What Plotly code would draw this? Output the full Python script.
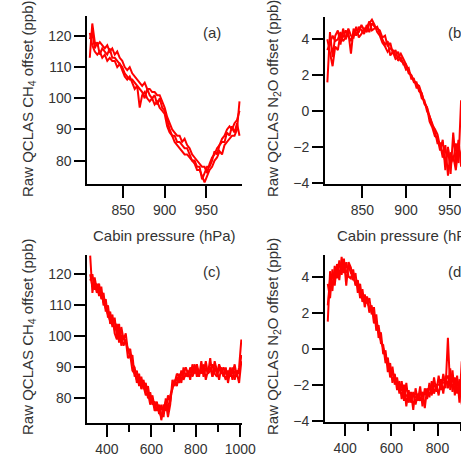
import plotly.graph_objects as go

# ---------------- data ----------------
# Panels (a)/(b): cabin pressure (hPa)
AB_X = [810, 813, 816, 819, 822, 825, 828, 831, 834, 837,
        840, 843, 846, 849, 852, 855, 858, 861, 864, 867,
        870, 873, 876, 879, 882, 885, 888, 891, 894, 897,
        900, 903, 906, 909, 912, 915, 918, 921, 924, 927,
        930, 933, 936, 939, 942, 945, 948, 951, 954, 957,
        960, 963, 966, 969, 972, 975, 978, 981, 984, 987,
        990]

A_CH4_1 = [113, 124, 118, 117, 118, 117, 116, 117, 115, 116,
           114, 115, 113, 112, 110, 109, 110, 108, 107, 106,
           105, 104, 105, 103, 103, 102, 102, 101, 101, 99,
           97, 94, 92, 90, 89, 88, 88, 86, 87, 85,
           84, 82, 81, 80, 79, 78, 78, 76, 79, 81,
           82, 84, 85, 87, 88, 90, 91, 90, 92, 93,
           96]
A_CH4_2 = [121, 117, 115, 114, 115, 113, 114, 112, 113, 112,
           112, 110, 111, 109, 107, 106, 107, 105, 103, 104,
           97, 101, 102, 100, 99, 100, 98, 99, 97, 96,
           95, 91, 89, 88, 86, 85, 84, 83, 82, 82,
           81, 80, 79, 77, 77, 75, 73, 75, 77, 78,
           80, 81, 83, 82, 85, 86, 87, 88, 88, 90,
           99]
A_CH4_3 = [119, 121, 116, 118, 114, 116, 115, 114, 116, 113,
           113, 112, 111, 110, 108, 107, 106, 106, 105, 104,
           103, 102, 100, 103, 101, 100, 101, 98, 100, 97,
           96, 93, 90, 88, 88, 86, 86, 85, 84, 84,
           82, 80, 80, 78, 78, 74, 76, 78, 78, 80,
           83, 82, 85, 86, 86, 89, 88, 91, 89, 92,
           88]

B_N2O_1 = [1.6, 4.4, 3.0, 4.2, 4.5, 3.7, 4.6, 4.0, 4.4, 3.2,
           4.6, 4.2, 4.7, 4.5, 4.3, 4.8, 4.4, 4.9, 4.7, 4.6,
           4.5, 4.1, 4.2, 3.6, 3.8, 3.2, 3.4, 2.8, 3.0, 2.6,
           2.6, 2.1, 2.0, 1.6, 1.6, 1.1, 1.0, 0.4, 0.2, -0.6,
           -0.9, -1.4, -1.5, -2.2, -1.6, -3.3, -2.0, -3.5, -1.2, -2.9,
           -1.6, -3.1, -0.5, -2.8, -2.2, -3.4, -1.5, -2.6, -1.9, -2.4,
           -1.5]
B_N2O_2 = [4.0, 3.2, 2.5, 3.6, 3.4, 4.3, 3.9, 4.1, 4.6, 4.2,
           4.1, 4.7, 4.1, 4.3, 4.6, 4.4, 4.9, 5.1, 4.8, 4.4,
           4.2, 3.8, 3.6, 3.3, 3.5, 3.4, 3.1, 3.3, 2.8, 2.7,
           2.3, 2.4, 1.8, 1.8, 1.3, 1.3, 0.7, 0.6, 0.0, -0.3,
           -0.7, -1.1, -1.8, -1.8, -2.6, -1.9, -3.6, -2.3, -2.8, -1.8,
           -2.9, 0.6, -3.3, -2.4, -1.7, -2.9, -2.5, -1.8, -2.6, -1.7,
           -2.2]
B_N2O_3 = [3.4, 3.8, 4.2, 3.9, 4.0, 4.4, 4.1, 4.5, 4.2, 3.9,
           4.4, 4.3, 4.4, 4.8, 4.5, 4.6, 5.0, 4.5, 4.6, 4.7,
           4.3, 4.0, 3.7, 3.9, 3.1, 3.3, 2.9, 3.0, 3.2, 2.9,
           2.6, 2.2, 2.0, 1.7, 1.5, 1.4, 0.9, 0.5, 0.2, -0.3,
           -0.8, -1.0, -1.3, -2.0, -2.3, -2.8, -2.1, -3.0, -2.5, -3.3,
           -2.0, -2.6, -1.8, -3.0, -2.2, -1.2, -3.1, -2.0, -2.7, -1.9,
           -2.3]

# Panels (c)/(d): pressure (hPa)
CD_X = [325, 335, 345, 355, 365, 375, 385, 395, 405, 415,
        425, 435, 445, 455, 465, 475, 485, 495, 505, 515,
        525, 535, 545, 555, 565, 575, 585, 595, 605, 615,
        625, 635, 645, 655, 665, 675, 685, 695, 705, 715,
        725, 735, 745, 755, 765, 775, 785, 795, 805, 815,
        825, 835, 845, 855, 865, 875, 885, 895, 905, 915,
        925, 935, 945, 955, 965, 975, 985, 995, 1005]

C_CH4_1 = [126, 114, 119, 115, 117, 112, 114, 108, 110, 104,
           106, 102, 104, 98, 103, 99, 101, 95, 96, 91,
           90, 85, 88, 83, 86, 82, 84, 79, 81, 77,
           79, 75, 78, 74, 80, 76, 81, 83, 86, 84,
           88, 85, 90, 87, 89, 86, 91, 88, 90, 87,
           92, 87, 90, 88, 93, 87, 90, 88, 91, 89,
           87, 90, 85, 89, 88, 91, 87, 90, 99]
C_CH4_2 = [118, 120, 115, 117, 113, 116, 110, 112, 106, 108,
           103, 106, 100, 104, 97, 100, 98, 96, 93, 94,
           87, 89, 84, 87, 83, 85, 80, 82, 78, 79,
           76, 78, 73, 77, 79, 74, 78, 86, 84, 87,
           85, 89, 86, 88, 87, 90, 88, 91, 87, 89,
           88, 91, 86, 89, 90, 87, 92, 89, 86, 90,
           88, 86, 89, 87, 90, 86, 89, 88, 94]
C_CH4_3 = [120, 116, 117, 114, 116, 114, 111, 109, 107, 105,
           107, 101, 99, 102, 100, 97, 99, 93, 94, 89,
           88, 86, 87, 85, 84, 81, 82, 78, 80, 76,
           77, 76, 74, 78, 76, 81, 79, 84, 85, 88,
           87, 86, 88, 90, 88, 89, 87, 89, 91, 88,
           89, 88, 92, 88, 89, 91, 88, 87, 90, 88,
           90, 88, 87, 90, 86, 89, 88, 85, 92]

D_N2O_1 = [1.5, 4.3, 3.2, 4.6, 3.9, 4.9, 4.1, 5.0, 3.5, 4.8,
           4.5, 3.8, 4.2, 3.1, 3.6, 2.6, 3.0, 2.5, 2.8, 1.9,
           2.3, 1.0, 1.3, 0.3, 0.2, -0.8, -0.5, -1.6, -1.0, -2.0,
           -1.6, -2.5, -1.8, -2.9, -1.9, -3.0, -2.4, -3.4, -2.2, -2.9,
           -2.1, -3.2, -2.2, -2.8, -1.9, -2.6, -1.6, -2.4, -1.5, -2.3,
           -1.4, -2.2, 0.6, -2.3, -1.2, -2.6, -1.5, -3.0, -0.7, -2.4,
           -1.8, -2.5, -1.6, -2.2, -2.0, -2.6, -1.7, -2.3, -1.9]
D_N2O_2 = [3.6, 2.8, 4.4, 3.5, 4.7, 3.8, 5.1, 4.2, 4.8, 4.0,
           3.9, 4.4, 3.5, 3.8, 2.8, 3.3, 2.3, 2.9, 2.0, 2.4,
           1.4, 1.9, 0.6, 0.9, -0.3, -0.1, -1.3, -0.8, -1.9, -1.4,
           -2.3, -1.8, -2.8, -2.0, -3.2, -2.3, -3.0, -2.4, -3.1, -2.5,
           -2.9, -2.4, -3.3, -2.2, -2.7, -1.8, -2.5, -2.0, -2.6, -1.7,
           -2.5, -1.5, -2.2, -1.1, -2.4, -1.6, -2.5, -1.7, -3.1, -1.9,
           -2.4, -1.7, -2.3, -2.0, -2.6, -1.8, -2.2, -2.1, -2.3]
D_N2O_3 = [2.4, 3.9, 3.6, 4.1, 4.5, 4.2, 4.6, 4.4, 4.2, 4.6,
           4.2, 4.0, 3.6, 3.5, 3.1, 2.9, 2.7, 2.6, 2.3, 2.2,
           1.8, 1.5, 0.9, 0.5, 0.0, -0.4, -0.9, -1.1, -1.4, -1.7,
           -1.9, -2.1, -2.3, -2.4, -2.6, -2.7, -2.8, -2.6, -2.7, -2.8,
           -2.5, -2.6, -2.4, -2.5, -2.2, -2.3, -2.1, -2.0, -2.0, -1.9,
           -1.9, -1.8, -1.5, -1.9, -1.8, -2.0, -2.0, -1.9, -2.1, -2.0,
           -2.1, -2.0, -2.0, -2.1, -2.0, -1.9, -2.0, -2.0, -2.1]

PANEL_LABELS = ["(a)", "(b)", "(c)", "(d)"]
X_TITLE = "Cabin pressure (hPa)"
Y_TITLE_CH4 = "Raw QCLAS CH<sub>4</sub> offset (ppb)"
Y_TITLE_N2O = "Raw QCLAS N<sub>2</sub>O offset (ppb)"

# ---------------- figure ----------------
W, H = 461, 459
FONT = "Liberation Sans, Arial, sans-serif"
TXT = "#333333"
RED = "#ff0000"

fig = go.Figure()

def add(xs, ys, ax):
    fig.add_trace(go.Scatter(x=xs, y=ys, mode="lines",
                             line=dict(color=RED, width=2),
                             xaxis="x" + ax, yaxis="y" + ax,
                             showlegend=False, hoverinfo="skip"))

for ys in (A_CH4_1, A_CH4_2, A_CH4_3):
    add(AB_X, ys, "")
for ys in (B_N2O_1, B_N2O_2, B_N2O_3):
    add(AB_X, ys, "2")
for ys in (C_CH4_1, C_CH4_2, C_CH4_3):
    add(CD_X, ys, "3")
for ys in (D_N2O_1, D_N2O_2, D_N2O_3):
    add(CD_X, ys, "4")

def px(x):
    return x / W

def py(y):
    return 1 - y / H

common = dict(showline=True, linecolor="black", linewidth=2,
              ticks="outside", tickwidth=2, tickcolor="black",
              showgrid=False, zeroline=False, automargin=False,
              ticklabeloverflow="allow",
              tickfont=dict(family=FONT, size=14, color=TXT))

left_x = [px(87.3), px(242)]
right_x = [px(325), 1.0]
top_y = [py(184.3), py(16)]
bot_y = [py(422.7), py(255)]

fig.update_layout(
    width=W, height=H,
    margin=dict(l=0, r=0, t=0, b=0, autoexpand=False),
    paper_bgcolor="white", plot_bgcolor="white",
    xaxis=dict(domain=left_x, anchor="y", range=[807, 993],
               tick0=850, dtick=50, ticklen=12, **common),
    yaxis=dict(domain=top_y, anchor="x", range=[72.4, 126.4],
               tick0=80, dtick=10, ticklen=11, **common),
    xaxis2=dict(domain=right_x, anchor="y2", range=[807.3, 962.9],
                tick0=850, dtick=50, ticklen=12, **common),
    yaxis2=dict(domain=[py(183.7), py(16.7)], anchor="x2", range=[-4.05, 5.26],
                tick0=0, dtick=2, ticklen=11, **common),
    xaxis3=dict(domain=left_x, anchor="y3", range=[312, 1008],
                tick0=0, dtick=200, ticklen=12,
                minor=dict(dtick=100, ticklen=7, tickwidth=2, tickcolor="black",
                           ticks="outside", showgrid=False), **common),
    yaxis3=dict(domain=bot_y, anchor="x3", range=[72.2, 126.2],
                tick0=80, dtick=10, ticklen=11, **common),
    xaxis4=dict(domain=right_x, anchor="y4", range=[313, 901.7],
                tick0=0, dtick=200, ticklen=12,
                minor=dict(dtick=100, ticklen=7, tickwidth=2, tickcolor="black",
                           ticks="outside", showgrid=False), **common),
    yaxis4=dict(domain=[py(422.3), py(255)], anchor="x4", range=[-4.09, 5.2],
                tick0=0, dtick=2, ticklen=11, **common),
)

ann = []
# panel labels (a), (c): full; (b), (d): cut at the right edge of the page
for lab, (x, y) in zip(PANEL_LABELS[::2], [(211.7, 33), (211.7, 271.7)]):
    ann.append(dict(text=lab, x=px(x), y=py(y), xref="paper", yref="paper",
                    xanchor="center", yanchor="middle", showarrow=False,
                    font=dict(family=FONT, size=15, color=TXT)))
for lab, y in zip(PANEL_LABELS[1::2], [33, 271.7]):
    ann.append(dict(text=lab, x=px(446.7), y=py(y), xref="paper", yref="paper",
                    xanchor="left", yanchor="middle", showarrow=False,
                    width=14, align="left", borderpad=0,
                    font=dict(family=FONT, size=15, color=TXT)))
# x titles
ann.append(dict(text=X_TITLE, x=px(164.7), y=py(235), xref="paper", yref="paper",
                xanchor="center", yanchor="middle", showarrow=False,
                font=dict(family=FONT, size=15, color=TXT)))
ann.append(dict(text=X_TITLE, x=px(335.5), y=py(235), xref="paper", yref="paper",
                xanchor="left", yanchor="middle", showarrow=False,
                width=125, align="left", borderpad=0,
                font=dict(family=FONT, size=15, color=TXT)))
# y titles
for t, (x, y) in [(Y_TITLE_CH4, (28, 99)), (Y_TITLE_N2O, (273, 99)),
                  (Y_TITLE_CH4, (28, 337)), (Y_TITLE_N2O, (273, 337))]:
    ann.append(dict(text=t, x=px(x), y=py(y), xref="paper", yref="paper",
                    xanchor="center", yanchor="middle", showarrow=False,
                    textangle=-90, font=dict(family=FONT, size=15, color=TXT)))
fig.update_layout(annotations=ann)

fig.write_html("out.html", config={"displayModeBar": False})
